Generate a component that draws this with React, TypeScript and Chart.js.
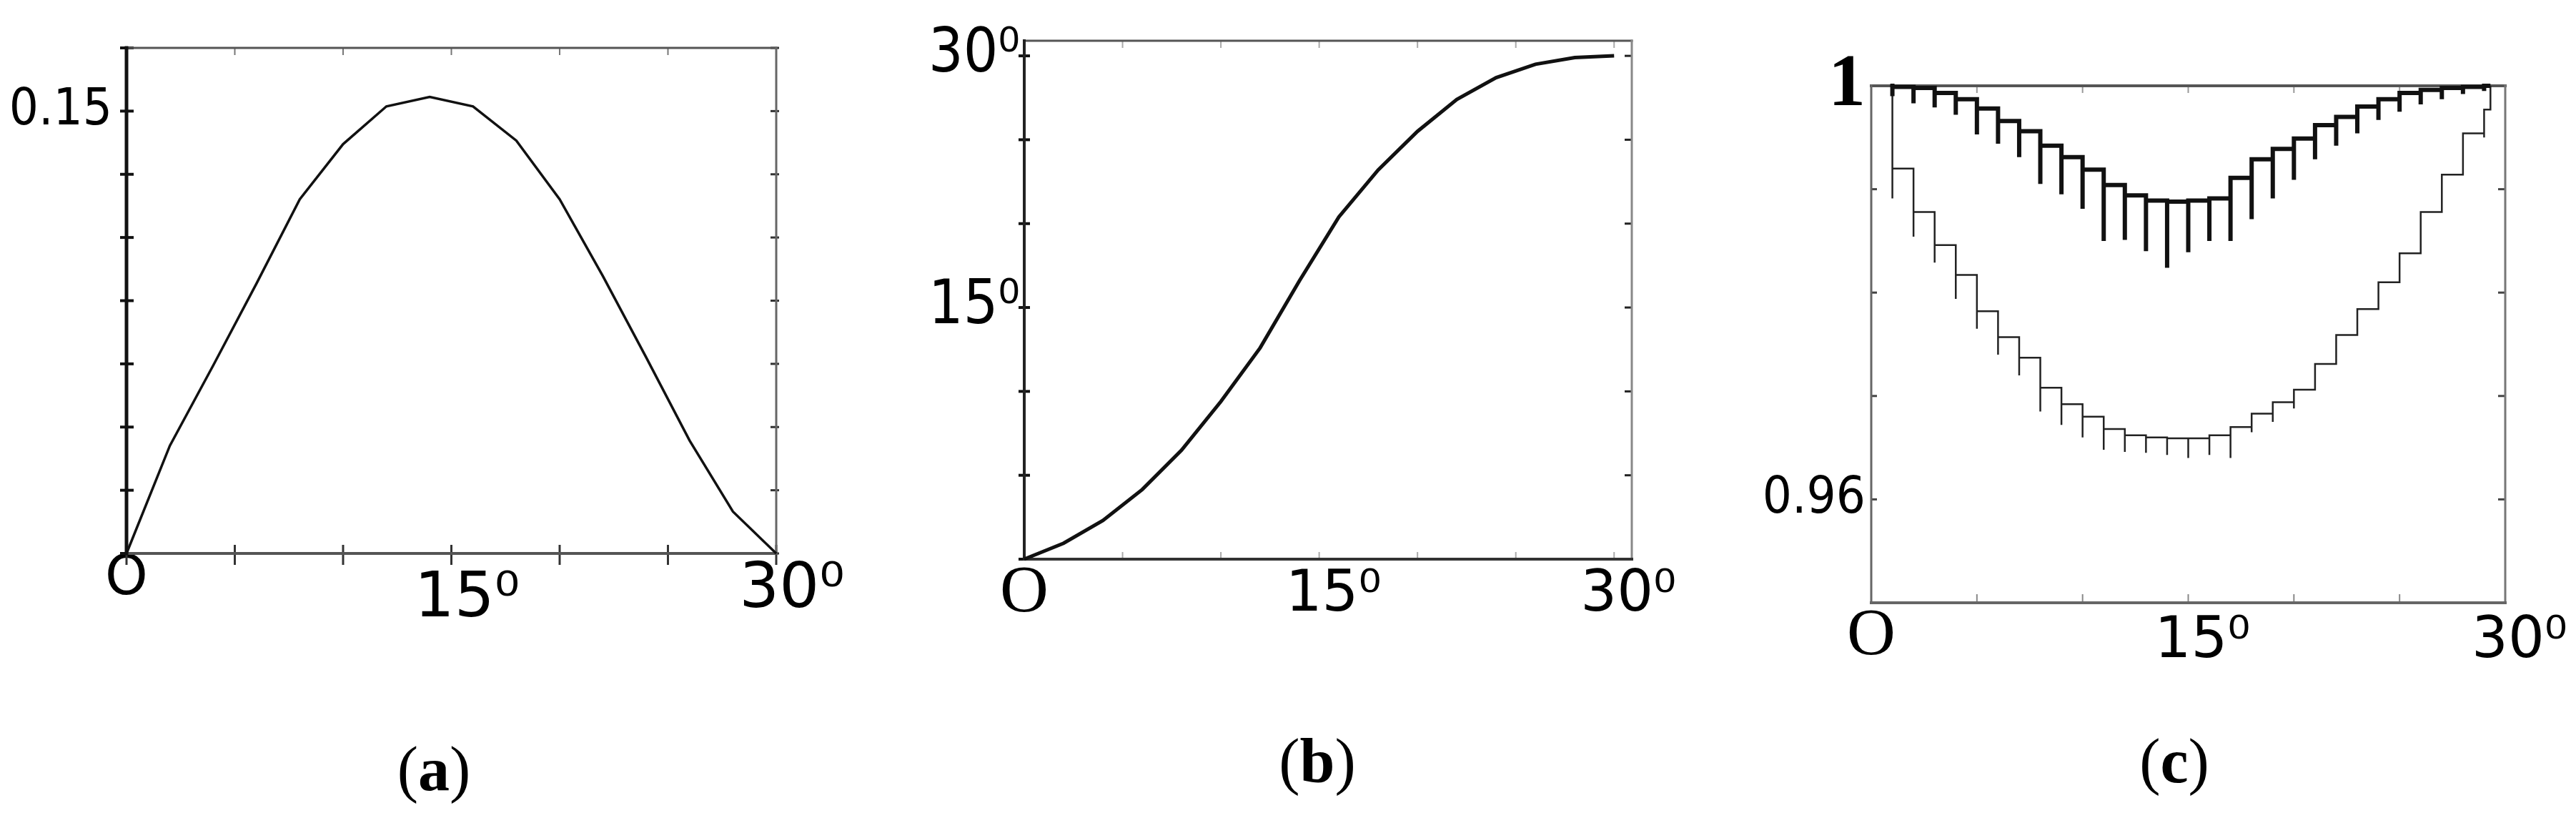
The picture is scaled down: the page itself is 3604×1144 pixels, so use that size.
import React, { useEffect, useRef } from 'react';
import { Chart, registerables } from 'chart.js';

Chart.register(...registerables);

// ---------- Panel (a) ----------
const angleA = [0, 2, 4, 6, 8, 10, 12, 14, 16, 18, 20, 22, 24, 26, 28, 30];
const valueA = [0, 0.0365, 0.0637, 0.0915, 0.1201, 0.1388, 0.1516, 0.1548, 0.1516, 0.14, 0.1201, 0.094, 0.0664, 0.0383, 0.0142, 0];

// ---------- Panel (b) ----------
const angleB = [0, 2, 4, 6, 8, 10, 12, 14, 16, 18, 20, 22, 24, 26, 28, 30];
const valueB = [0, 0.95, 2.3, 4.15, 6.5, 9.4, 12.6, 16.6, 20.4, 23.2, 25.5, 27.4, 28.7, 29.5, 29.9, 30.0];

// ---------- Panel (c) ----------
const stepAngleC = [1, 2, 3, 4, 5, 6, 7, 8, 9, 10, 11, 12, 13, 14, 15, 16, 17, 18, 19, 20, 21, 22, 23, 24, 25, 26, 27, 28, 29];
const upperLevelC = [0.9999, 0.9998, 0.9993, 0.9987, 0.9978, 0.9966, 0.9956, 0.9942, 0.9931, 0.9919, 0.9904, 0.9894, 0.9889, 0.9888, 0.9889, 0.9891, 0.9911, 0.9929, 0.9939, 0.9949, 0.9962, 0.997, 0.998, 0.9987, 0.9993, 0.9996, 0.9998, 0.9999, 1.0];
const upperSpikeC = [0.999, 0.9983, 0.9979, 0.9972, 0.9953, 0.9944, 0.9931, 0.9905, 0.9895, 0.9881, 0.985, 0.9851, 0.984, 0.9824, 0.9839, 0.985, 0.985, 0.9871, 0.9891, 0.9909, 0.9929, 0.9942, 0.9954, 0.9967, 0.9975, 0.9982, 0.9987, 0.9992, 0.9995];
const lowerLevelC = [0.992, 0.9878, 0.9846, 0.9817, 0.9782, 0.9757, 0.9737, 0.9708, 0.9692, 0.968, 0.9668, 0.9662, 0.966, 0.9659, 0.9659, 0.9662, 0.967, 0.9683, 0.9694, 0.9706, 0.9731, 0.9759, 0.9784, 0.981, 0.9838, 0.9878, 0.9914, 0.9954, 0.9977];
const lowerSpikeC = [0.9891, 0.9854, 0.9829, 0.9794, 0.9765, 0.974, 0.972, 0.9685, 0.9672, 0.966, 0.9648, 0.9646, 0.9645, 0.9643, 0.964, 0.9643, 0.964, 0.9665, 0.9675, 0.9688, 0.9706, 0.9735, 0.976, 0.979, 0.9815, 0.985, 0.989, 0.9925, 0.995];
const startAngleC = 0.9;
const endAngleC = 29.3;

// tick labels
const xTickLabels: Record<number, string> = { 0: 'O', 15: '\u200215\u2070', 30: '\u200230\u2070' };
const yLabelA = '0.15';
const yLabelsB: Record<number, string> = { 15: '15\u2070', 30: '30\u2070' };
const yLabelsC: Record<number, string> = { 1: '1', 0.96: '0.96' };

const SANS = '"DejaVu Sans", sans-serif';
const NARROW = '"Liberation Sans Narrow", "DejaVu Sans Condensed", sans-serif';
const SERIF = '"Liberation Serif", "DejaVu Serif", serif';

const near = (a: number, b: number) => Math.abs(a - b) < 1e-7;

function xLabel(v: number) {
  for (const k of [0, 15, 30]) if (near(v, k)) return xTickLabels[k];
  return '';
}

function stepPoints(xs: number[], levels: number[], spikes: number[], x0: number, x1: number, closeTop: boolean) {
  const pts: { x: number; y: number }[] = [{ x: x0, y: 1.0 }];
  let prev = 1.0;
  xs.forEach((x, i) => {
    pts.push({ x, y: prev });
    pts.push({ x, y: spikes[i] });
    pts.push({ x, y: levels[i] });
    prev = levels[i];
  });
  pts.push({ x: x1, y: prev });
  if (closeTop) pts.push({ x: x1, y: 1.0 });
  return pts;
}

type Spec = {
  border: Record<string, [number, string]>;
  ticks: Record<string, [number, number, number, string]>;
};

function framePlugin(spec: Spec) {
  return {
    id: 'frameTicks',
    beforeDatasetsDraw(chart: any) {
      const { ctx, chartArea: a, scales } = chart;
      const xs = scales.x;
      const ys = scales.y;
      ctx.save();
      const line = (x1: number, y1: number, x2: number, y2: number, w: number, c: string, cap = 'butt') => {
        ctx.beginPath();
        ctx.lineWidth = w;
        ctx.strokeStyle = c;
        ctx.lineCap = cap;
        ctx.moveTo(x1, y1);
        ctx.lineTo(x2, y2);
        ctx.stroke();
      };
      const t = spec.ticks;
      for (const tk of xs.ticks) {
        const px = xs.getPixelForValue(tk.value);
        if (t.bottom) line(px, a.bottom - t.bottom[0], px, a.bottom + t.bottom[1], t.bottom[2], t.bottom[3]);
        if (t.top) line(px, a.top - t.top[1], px, a.top + t.top[0], t.top[2], t.top[3]);
      }
      for (const tk of ys.ticks) {
        const py = ys.getPixelForValue(tk.value);
        if (t.left) line(a.left - t.left[1], py, a.left + t.left[0], py, t.left[2], t.left[3]);
        if (t.right) line(a.right - t.right[0], py, a.right + t.right[1], py, t.right[2], t.right[3]);
      }
      const b = spec.border;
      line(a.left, a.top, a.right, a.top, b.top[0], b.top[1], 'square');
      line(a.right, a.top, a.right, a.bottom, b.right[0], b.right[1], 'square');
      line(a.left, a.bottom, a.right, a.bottom, b.bottom[0], b.bottom[1], 'square');
      line(a.left, a.top, a.left, a.bottom, b.left[0], b.left[1], 'square');
      ctx.restore();
    },
  };
}

function baseOptions(p: {
  padTop: number; padRight: number; yWidth: number; xHeight: number;
  xMin: number; xMax: number; yMin: number; yMax: number; yStep: number;
  xFont: (v: number) => any; yFont: (v: number) => any; yLabel: (v: number) => string; yPad: number;
}) {
  return {
    responsive: false,
    animation: false,
    devicePixelRatio: 1,
    layout: { padding: { left: 0, top: p.padTop, right: p.padRight, bottom: 0 } },
    plugins: { legend: { display: false }, tooltip: { enabled: false }, title: { display: false } },
    elements: { point: { radius: 0 }, line: { tension: 0 } },
    scales: {
      x: {
        type: 'linear',
        min: p.xMin,
        max: p.xMax,
        afterFit: (s: any) => { s.height = p.xHeight; },
        grid: { display: false, drawTicks: false },
        border: { display: false },
        ticks: {
          stepSize: 5,
          autoSkip: false,
          includeBounds: false,
          maxRotation: 0,
          minRotation: 0,
          padding: 0,
          color: '#000',
          callback: (v: any) => xLabel(Number(v)),
          font: (c: any) => p.xFont(c.tick ? c.tick.value : 0),
        },
      },
      y: {
        type: 'linear',
        min: p.yMin,
        max: p.yMax,
        afterFit: (s: any) => { s.width = p.yWidth; },
        grid: { display: false, drawTicks: false },
        border: { display: false },
        ticks: {
          stepSize: p.yStep,
          autoSkip: false,
          includeBounds: false,
          padding: p.yPad,
          color: '#000',
          callback: (v: any) => p.yLabel(Number(v)),
          font: (c: any) => p.yFont(c.tick ? c.tick.value : 0),
        },
      },
    },
  };
}

function configA() {
  const opts: any = baseOptions({
    padTop: 67, padRight: 114, yWidth: 177, xHeight: 186,
    xMin: 0, xMax: 30, yMin: 0, yMax: (0.15 * 8) / 7, yStep: 0.15 / 7,
    xFont: (v) => near(v, 0)
      ? { family: SANS, size: 76, lineHeight: '74px' }
      : near(v, 15)
        ? { family: SANS, size: 88, lineHeight: '130px' }
        : { family: SANS, size: 88, lineHeight: '104px' },
    yFont: () => ({ family: NARROW, size: 72, lineHeight: 1 }),
    yLabel: (v) => (near(v, 0.15) ? yLabelA : ''),
    yPad: 20,
  });
  return {
    type: 'line',
    data: {
      datasets: [{
        data: angleA.map((x, i) => ({ x, y: valueA[i] })),
        borderColor: '#111',
        borderWidth: 3.5,
        fill: false,
        clip: false,
      }],
    },
    options: opts,
    plugins: [framePlugin({
      border: { left: [5, '#111'], bottom: [4, '#555'], top: [3, '#555'], right: [3, '#666'] },
      ticks: { left: [10, 9, 4, '#111'], right: [8, 4, 3, '#333'], top: [10, 0, 2, '#777'], bottom: [12, 16, 3, '#333'] },
    })],
  };
}

function configB() {
  const opts: any = baseOptions({
    padTop: 57, padRight: 117, yWidth: 233, xHeight: 178,
    xMin: 0, xMax: 30.9, yMin: 0, yMax: 30.9, yStep: 5,
    xFont: (v) => near(v, 0)
      ? { family: SERIF, size: 94, lineHeight: '96px' }
      : { family: SANS, size: 80, lineHeight: '102px' },
    yFont: () => ({ family: NARROW, size: 85, lineHeight: 1 }),
    yLabel: (v) => {
      for (const k of [15, 30]) if (near(v, k)) return yLabelsB[k];
      return '';
    },
    yPad: 6,
  });
  return {
    type: 'line',
    data: {
      datasets: [{
        data: angleB.map((x, i) => ({ x, y: valueB[i] })),
        borderColor: '#111',
        borderWidth: 5,
        fill: false,
        clip: false,
      }],
    },
    options: opts,
    plugins: [framePlugin({
      border: { left: [4, '#222'], bottom: [4, '#333'], top: [3, '#555'], right: [3, '#888'] },
      ticks: { left: [8, 8, 4, '#111'], right: [10, 0, 3, '#222'], top: [10, 0, 2, '#aaa'], bottom: [10, 0, 2, '#aaa'] },
    })],
  };
}

function configC() {
  const opts: any = baseOptions({
    padTop: 120, padRight: 99, yWidth: 218, xHeight: 117,
    xMin: 0, xMax: 30, yMin: 0.95, yMax: 1.0, yStep: 0.01,
    xFont: (v) => near(v, 0)
      ? { family: SERIF, size: 94, lineHeight: '94px' }
      : { family: SANS, size: 80, lineHeight: '110px' },
    yFont: (v) => near(v, 1)
      ? { family: SERIF, size: 104, weight: 'bold', lineHeight: 1 }
      : { family: NARROW, size: 72, lineHeight: 1 },
    yLabel: (v) => (near(v, 1) ? yLabelsC[1] : near(v, 0.96) ? yLabelsC[0.96] : ''),
    yPad: 8,
  });
  return {
    type: 'line',
    data: {
      datasets: [
        {
          data: stepPoints(stepAngleC, upperLevelC, upperSpikeC, startAngleC, endAngleC, false),
          borderColor: '#111',
          borderWidth: 6,
          fill: false,
          clip: false,
        },
        {
          data: stepPoints(stepAngleC, lowerLevelC, lowerSpikeC, startAngleC, endAngleC, true),
          borderColor: '#222',
          borderWidth: 2.5,
          fill: false,
          clip: false,
        },
      ],
    },
    options: opts,
    plugins: [framePlugin({
      border: { left: [3, '#666'], bottom: [4, '#666'], top: [4, '#555'], right: [3, '#777'] },
      ticks: { left: [8, 0, 3, '#444'], right: [10, 0, 3, '#444'], top: [10, 0, 2, '#999'], bottom: [12, 0, 2, '#888'] },
    })],
  };
}

function Panel({ left, width, height, make }: { left: number; width: number; height: number; make: () => any }) {
  const ref = useRef<HTMLCanvasElement | null>(null);
  useEffect(() => {
    if (!ref.current) return;
    const chart = new Chart(ref.current, make());
    return () => chart.destroy();
  }, []);
  return (
    <canvas
      ref={ref}
      width={width}
      height={height}
      style={{ position: 'absolute', left, top: 0, width, height, display: 'block' }}
    />
  );
}

function Caption({ cx, top, letter }: { cx: number; top: number; letter: string }) {
  return (
    <div
      style={{
        position: 'absolute',
        left: cx - 150,
        top,
        width: 300,
        textAlign: 'center',
        fontFamily: SERIF,
        fontSize: 88,
        lineHeight: '88px',
        color: '#000',
      }}
    >
      (<b>{letter}</b>)
    </div>
  );
}

export default function App() {
  return (
    <div style={{ position: 'absolute', left: 0, top: 0, width: 3604, height: 1144, background: '#fff', overflow: 'hidden' }}>
      <Panel left={0} width={1200} height={960} make={configA} />
      <Panel left={1200} width={1200} height={960} make={configB} />
      <Panel left={2400} width={1204} height={960} make={configC} />
      <Caption cx={607} top={1032} letter="a" />
      <Caption cx={1843} top={1021} letter="b" />
      <Caption cx={3042} top={1021} letter="c" />
    </div>
  );
}
